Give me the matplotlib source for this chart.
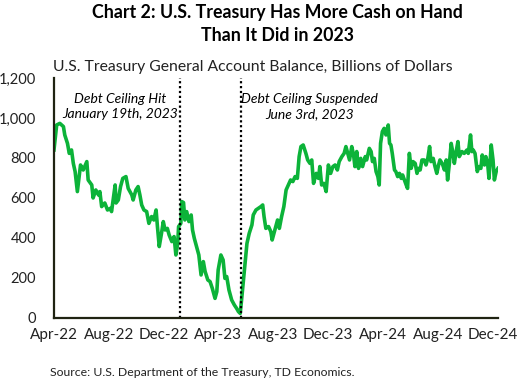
"""Chart 2: U.S. Treasury General Account balance, Apr-2022 to Dec-2024."""

import matplotlib

matplotlib.use("Agg")
import matplotlib.dates as mdates  # noqa: E402
import matplotlib.pyplot as plt  # noqa: E402
import numpy as np  # noqa: E402
from matplotlib.ticker import FuncFormatter, MultipleLocator  # noqa: E402

plt.rcParams["font.family"] = ["Lato", "DejaVu Sans"]

START = np.datetime64("2022-04-14")

# days since START
day_offsets = [
    0, 6, 13, 21, 24, 30, 34, 39, 43, 47, 52, 56, 59, 65, 73, 76, 84, 87, 93, 99,
    102, 106, 113, 119, 125, 128, 132, 136, 138, 143, 148, 153, 160, 165, 173, 176,
    182, 187, 191, 195, 200, 206, 211, 217, 222, 227, 230, 234, 239, 243, 247, 252,
    256, 262, 267, 271, 275, 277, 282, 284,
    288, 291, 295, 300, 305, 308, 312, 317, 322, 327, 332, 336, 342, 347, 352, 358,
    362, 365, 371, 376, 380, 384, 389, 395, 401, 406, 410, 414, 417, 423, 426, 429,
    434, 440, 443, 449, 454, 460, 464, 467, 471, 477, 482, 485, 491, 497, 501, 506,
    511, 516, 521, 526, 531, 536, 541, 545, 549, 554, 560, 564, 569, 573, 577, 583,
    588, 591, 595, 600, 605, 610, 615, 620, 625, 630, 634, 640, 645, 649, 652, 657,
    662, 666, 669, 673, 677, 682, 686, 692, 695, 701, 705, 708, 712, 716, 720, 723,
    726, 730, 734, 738, 743, 746, 749, 752, 757, 760, 764, 768, 772, 775, 779, 783,
    786, 790, 794, 798, 803, 807, 810, 814, 818, 823, 827, 831, 835, 838, 843, 847,
    851, 855, 858, 863, 868, 872, 875, 879, 883, 887, 890, 894, 898, 901, 907, 912,
    918, 921, 926, 929, 932, 936, 941, 945, 949, 952, 957, 960, 964, 967, 972, 976,
    979, 983, 987,
]
balance = [
    840, 965, 973, 957, 915, 873, 823, 840, 773, 732, 632, 707, 765, 740, 782, 690,
    665, 600, 640, 615, 632, 557, 575, 540, 548, 532, 600, 665, 575, 590, 657, 698,
    707, 648, 615, 590, 640, 657, 615, 565, 540, 532, 473, 507, 490, 540, 457, 357,
    423, 482, 440, 448, 415, 382, 407, 315, 373, 457, 473, 582,
    577, 490, 532, 482, 515, 440, 398, 357, 315, 215, 282, 232, 190, 182, 148, 98,
    132, 240, 315, 290, 198, 207, 140, 90, 65, 48, 32, 23, 90, 230, 300, 373,
    423, 465, 515, 540, 548, 557, 565, 507, 448, 457, 432, 390, 440, 490, 448, 507,
    557, 640, 665, 690, 682, 707, 698, 807, 857, 865, 823, 790, 773, 790, 673, 723,
    698, 757, 665, 673, 632, 765, 723, 757, 765, 740, 782, 807, 823, 857, 832, 790,
    857, 815, 757, 832, 748, 798, 757, 807, 790, 848, 832, 782, 798, 732, 707, 665,
    873, 932, 948, 915, 965, 873, 865, 823, 740, 732, 707, 723, 698, 715, 690, 665,
    648, 823, 748, 782, 773, 723, 748, 740, 790, 790, 765, 798, 857, 782, 798, 757,
    723, 765, 790, 773, 740, 790, 690, 773, 873, 823, 773, 832, 882, 807, 832, 823,
    840, 823, 915, 832, 840, 823, 732, 757, 748, 815, 765, 807, 773, 698, 865, 790,
    690, 732, 748,
]
dates = START + np.array(day_offsets, dtype="timedelta64[D]")

event_dates = [np.datetime64("2023-01-19"), np.datetime64("2023-06-03")]
event_labels = ["Debt Ceiling Hit\nJanuary 19th, 2023", "Debt Ceiling Suspended\nJune 3rd, 2023"]

tick_dates = [START + np.timedelta64(d, "D") for d in (0, 122, 244, 365, 487, 609, 731, 853, 975)]
tick_labels = ["Apr-22", "Aug-22", "Dec-22", "Apr-23", "Aug-23", "Dec-23", "Apr-24", "Aug-24", "Dec-24"]

fig = plt.figure(figsize=(5.17, 3.86), dpi=100)
ax = fig.add_axes([0.1044, 0.1762, 0.8588, 0.6218])

ax.plot(dates, balance, color="#0cb339", lw=2.6, solid_joinstyle="round")
for d in event_dates:
    ax.axvline(d, color="black", ls=(0, (1, 1.2)), lw=1.6)

ax.text(mdates.date2num(event_dates[0]) - 5, 1125, event_labels[0], ha="right", va="top",
        style="italic", fontsize=10, multialignment="center", linespacing=1.35)
ax.text(mdates.date2num(event_dates[1]) + 1, 1125, event_labels[1], ha="left", va="top",
        style="italic", fontsize=10, multialignment="center", linespacing=1.35)

ax.set_xlim(START, START + np.timedelta64(987, "D"))
ax.set_ylim(0, 1200)
ax.yaxis.set_major_locator(MultipleLocator(200))
ax.yaxis.set_major_formatter(FuncFormatter(lambda v, _: f"{v:,.0f}"))
ax.set_xticks(tick_dates, tick_labels)
ax.tick_params(length=0, labelsize=11, colors="#222222")
ax.tick_params(axis="y", pad=13, labelsize=10.5)
ax.tick_params(axis="x", pad=7)

for side in ("top", "right"):
    ax.spines[side].set_visible(False)
for side in ("left", "bottom"):
    ax.spines[side].set_color("#1f2312")
    ax.spines[side].set_linewidth(1.6)

fig.text(0.536, 0.99, "Chart 2: U.S. Treasury Has More Cash on Hand\nThan It Did in 2023",
         ha="center", va="top", fontsize=12.8, fontweight="bold", linespacing=1.45)
fig.text(0.102, 0.816, "U.S. Treasury General Account Balance, Billions of Dollars",
         ha="left", va="baseline", fontsize=11.3, color="#222222")
fig.text(0.097, 0.036, "Source: U.S. Department of the Treasury, TD Economics.",
         ha="left", va="center", fontsize=8.8, color="#222222")

fig.savefig("out.png", dpi=100)
